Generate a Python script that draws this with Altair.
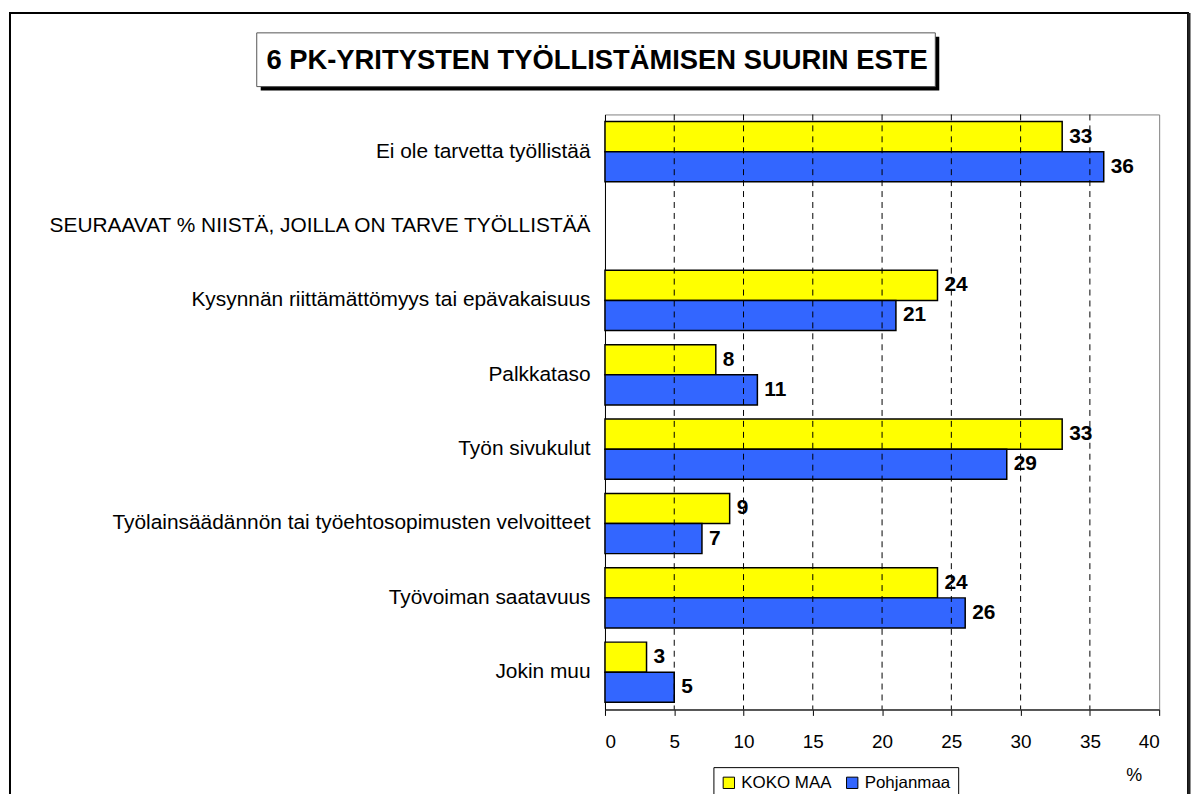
import altair as alt
import pandas as pd

categories = [
    "Ei ole tarvetta työllistää",
    "SEURAAVAT % NIISTÄ, JOILLA ON TARVE TYÖLLISTÄÄ",
    "Kysynnän riittämättömyys tai epävakaisuus",
    "Palkkataso",
    "Työn sivukulut",
    "Työlainsäädännön tai työehtosopimusten velvoitteet",
    "Työvoiman saatavuus",
    "Jokin muu",
]
series = ["KOKO MAA", "Pohjanmaa"]
koko_maa = [33, None, 24, 8, 33, 9, 24, 3]
pohjanmaa = [36, None, 21, 11, 29, 7, 26, 5]
x_ticks = [0, 5, 10, 15, 20, 25, 30, 35, 40]
grid_values = [5, 10, 15, 20, 25, 30, 35]
colors = ["#FFFF00", "#3366FF"]
title_text = "6 PK-YRITYSTEN TYÖLLISTÄMISEN SUURIN ESTE"
unit_text = "%"

FONT = "Liberation Sans"

rows = []
for cat, a, b in zip(categories, koko_maa, pohjanmaa):
    if a is not None:
        rows.append({"category": cat, "series": series[0], "value": a})
    if b is not None:
        rows.append({"category": cat, "series": series[1], "value": b})
df = pd.DataFrame(rows)
grid_df = pd.DataFrame({"value": grid_values})
one = pd.DataFrame({"d": [0]})

W, H = 557, 598
PL, PT = 600, 105


def px(x):
    return x - (PL + 8)


def py(y):
    return y - (PT + 8)


x_scale = alt.Scale(domain=[0, 40], nice=False, zero=True)
x_axis = alt.Axis(
    title=None, values=x_ticks, grid=False, tickSize=6, tickColor="black",
    domainColor="#333333", domainWidth=1.5, labelFontSize=19, labelFont=FONT,
    labelColor="black", labelPadding=17,
)
y_scale = alt.Scale(domain=categories, paddingInner=0.19, paddingOuter=0.095)
y_enc = alt.Y(
    "category:N",
    scale=y_scale,
    axis=alt.Axis(
        title=None, ticks=False, labelPadding=15, labelLimit=700,
        labelFontSize=21, labelFont=FONT, labelColor="black",
        domainColor="black", domainWidth=1,
    ),
)
yoff = alt.YOffset("series:N", sort=series, scale=alt.Scale(paddingInner=0, paddingOuter=0))

bars = alt.Chart(df).mark_bar(stroke="black", strokeWidth=1.5).encode(
    x=alt.X("value:Q", scale=x_scale, axis=x_axis),
    y=y_enc,
    yOffset=yoff,
    color=alt.Color(
        "series:N", sort=series,
        scale=alt.Scale(domain=series, range=colors),
        legend=alt.Legend(
            title=None, orient="none", legendX=px(717), legendY=py(769), direction="horizontal",
            strokeColor="black", fillColor="white", padding=7, symbolType="square",
            symbolSize=130, symbolStrokeColor="black", symbolStrokeWidth=1,
            labelFontSize=17, labelFont=FONT, labelColor="black", columnPadding=12,
            labelOffset=4,
        ),
    ),
)

grid = alt.Chart(grid_df).mark_rule(color="#000000", strokeDash=[6, 5], strokeWidth=1).encode(
    x=alt.X("value:Q", scale=x_scale, axis=x_axis)
)

labels = alt.Chart(df).mark_text(
    align="left", baseline="middle", dx=7, fontSize=21, fontWeight="bold", font=FONT, color="black"
).encode(
    x=alt.X("value:Q", scale=x_scale, axis=x_axis),
    y=alt.Y("category:N", scale=y_scale),
    yOffset=yoff,
    text=alt.Text("value:Q"),
)

# decorations (outer frame, title box with shadow, unit text), positioned in page pixels
frame = alt.Chart(one).mark_rect(fill=None, stroke="black", strokeWidth=2).encode(
    x=alt.value(px(10)), x2=alt.value(px(1194)), y=alt.value(py(11)), y2=alt.value(py(1000))
)
frame_right = alt.Chart(one).mark_rule(color="#222222", strokeWidth=3).encode(
    x=alt.value(px(1195)), y=alt.value(py(11)), y2=alt.value(py(1000))
)
shadow = alt.Chart(one).mark_rect(fill="black").encode(
    x=alt.value(px(262)), x2=alt.value(px(944)), y=alt.value(py(35)), y2=alt.value(py(89))
)
tbox = alt.Chart(one).mark_rect(fill="white", stroke="#555555", strokeWidth=1).encode(
    x=alt.value(px(258)), x2=alt.value(px(940)), y=alt.value(py(31)), y2=alt.value(py(85))
)
ttext = alt.Chart(one).mark_text(
    text=title_text, fontSize=27.5, fontWeight="bold", font=FONT, color="black",
    align="center", baseline="middle"
).encode(x=alt.value(px(600)), y=alt.value(py(59)))
unit = alt.Chart(one).mark_text(
    text=unit_text, fontSize=18, font=FONT, color="black", align="center", baseline="middle"
).encode(x=alt.value(px(1140)), y=alt.value(py(778)))

chart = alt.layer(
    frame, frame_right, shadow, tbox, ttext, bars, grid, labels, unit
).properties(
    width=W, height=H,
    autosize=alt.AutoSizeParams(type="none"),
    padding={"left": PL, "top": PT, "right": 1189 - PL - W, "bottom": 786 - PT - H},
).configure_view(
    stroke="#808080", strokeWidth=1
)

chart.save("out.html", embed_options={"renderer": "svg", "actions": False})
